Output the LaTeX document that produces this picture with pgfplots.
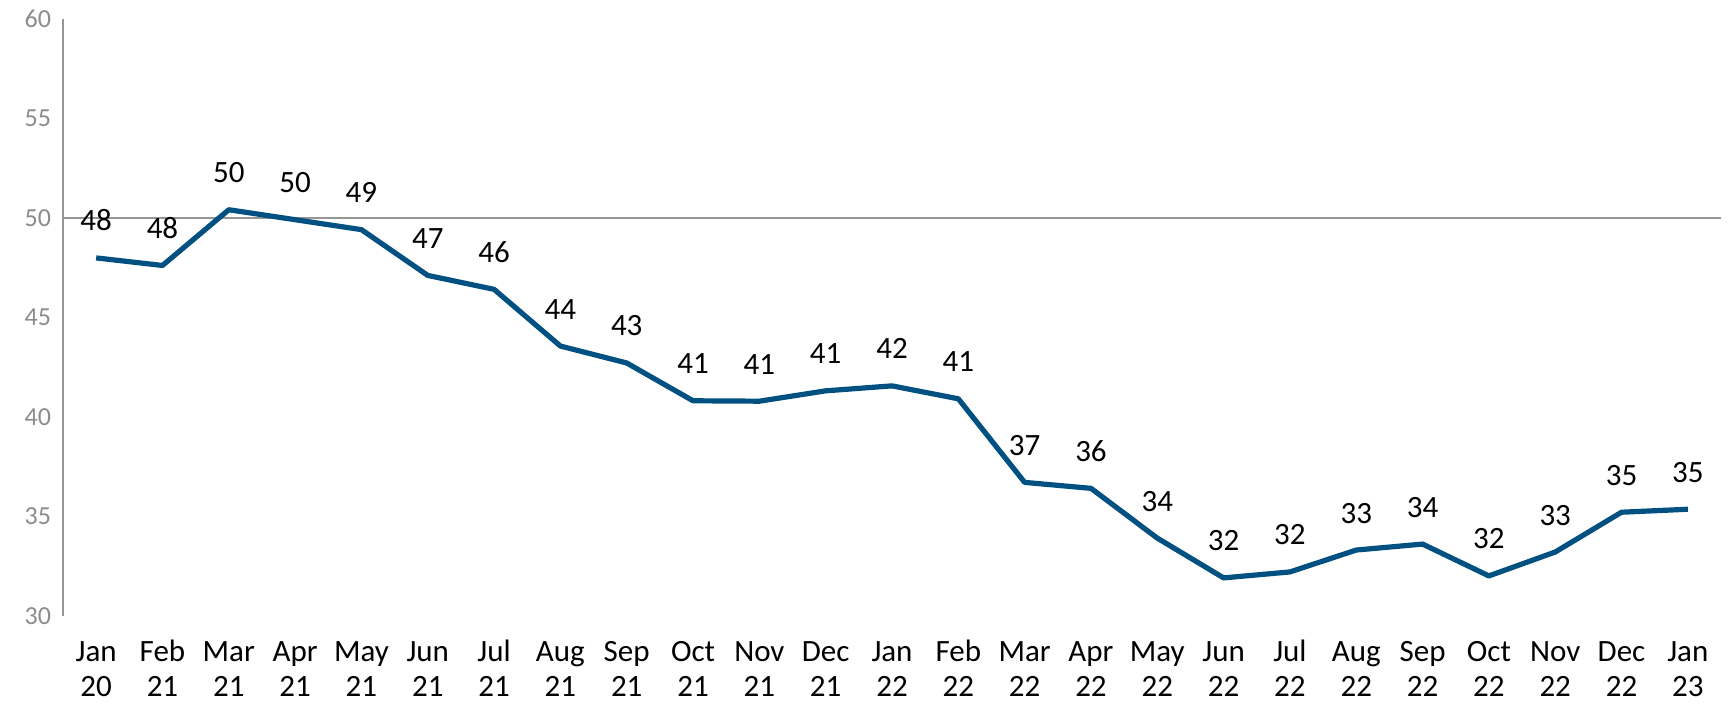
\documentclass[border=0pt]{standalone}
\usepackage{pgfplots}
\pgfplotsset{compat=1.18}
\usepackage{pgfplotstable}
\usepackage{fontspec}
\setmainfont{Carlito}
\definecolor{lineblue}{RGB}{0,81,130}
\definecolor{axgray}{RGB}{150,150,150}
\definecolor{tickgray}{RGB}{140,140,140}
\newcommand{\tl}[2]{\strut#1\\\strut#2}
\pgfplotstableread{
x y lab
0 47.98 48
1 47.6 48
2 50.4 50
3 49.9 50
4 49.4 49
5 47.1 47
6 46.4 46
7 43.55 44
8 42.7 43
9 40.8 41
10 40.78 41
11 41.3 41
12 41.55 42
13 40.9 41
14 36.7 37
15 36.4 36
16 33.9 34
17 31.9 32
18 32.2 32
19 33.3 33
20 33.6 34
21 32.0 32
22 33.2 33
23 35.2 35
24 35.35 35
}\data
\begin{document}
\begin{tikzpicture}
\begin{axis}[
  scale only axis,
  width=829pt, height=298.5pt,
  xmin=-0.5, xmax=24.5,
  ymin=30, ymax=60,
  ytick={30,35,...,60},
  xtick={0,...,24},
  xticklabels={{\tl{Jan}{20}},{\tl{Feb}{21}},{\tl{Mar}{21}},{\tl{Apr}{21}},{\tl{May}{21}},{\tl{Jun}{21}},{\tl{Jul}{21}},{\tl{Aug}{21}},{\tl{Sep}{21}},{\tl{Oct}{21}},{\tl{Nov}{21}},{\tl{Dec}{21}},{\tl{Jan}{22}},{\tl{Feb}{22}},{\tl{Mar}{22}},{\tl{Apr}{22}},{\tl{May}{22}},{\tl{Jun}{22}},{\tl{Jul}{22}},{\tl{Aug}{22}},{\tl{Sep}{22}},{\tl{Oct}{22}},{\tl{Nov}{22}},{\tl{Dec}{22}},{\tl{Jan}{23}}},
  axis x line*=bottom,
  axis y line*=left,
  x axis line style={draw=none},
  y axis line style={draw=axgray, line width=1pt, -},
  major tick length=0pt,
  /pgf/number format/assume math mode=true,
  yticklabel style={font=\fontsize{13}{15}\selectfont, text=tickgray, xshift=-2.5pt},
  xticklabel style={font=\fontsize{15.5}{17.5}\selectfont, align=center, anchor=north, yshift=-7pt},
  clip=false,
]
\addplot[axgray, line width=0.8pt, forget plot] coordinates {(-0.5,50) (24.5,50)};
\addplot[lineblue, line width=2.6pt, line join=round,
  nodes near coords, point meta=explicit symbolic,
  every node near coord/.append style={font=\fontsize{15.5}{18}\selectfont, text=black, anchor=base, yshift=13.5pt, inner sep=0pt}]
  table[x=x, y=y, meta=lab] {\data};
\coordinate (bl) at (rel axis cs:0,0);
\coordinate (tr) at (rel axis cs:1,1);
\end{axis}
\pgfresetboundingbox
\path ([shift={(-31.5pt,-43.65pt)}]bl) rectangle ([shift={(3.5pt,9.35pt)}]tr);
\end{tikzpicture}
\end{document}
